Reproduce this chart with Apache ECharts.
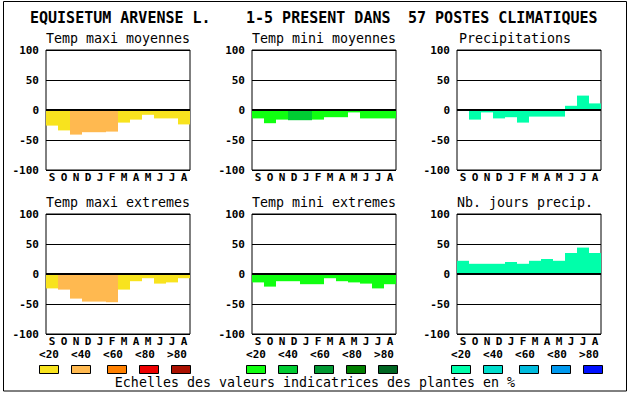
<!DOCTYPE html>
<html>
<head>
<meta charset="utf-8">
<script src="https://cdn.jsdelivr.net/npm/echarts@6/dist/echarts.min.js"></script>
<style>
html,body{margin:0;padding:0;background:#fff;}
#chart{width:630px;height:394px;}
</style>
</head>
<body>
<div id="chart"></div>
<script>
// ---- data ----
const months = ['S','O','N','D','J','F','M','A','M','J','J','A'];
const scaleLabels = ['<20','<40','<60','<80','>80'];

const maxiMoyValues = [-26,-34,-41,-37,-37,-36,-21,-16,-8,-14,-14,-24];
const maxiMoyClass  = [0,0,1,1,1,1,0,0,0,0,0,0];
const miniMoyValues = [-14,-22,-16,-17,-17,-16,-12,-12,-4,-14,-14,-14];
const miniMoyClass  = [0,0,0,1,1,0,0,0,0,0,0,0];
const precipValues  = [0,-16,-4,-14,-12,-21,-11,-11,-11,7,24,11];
const precipClass   = [0,0,0,0,0,0,0,0,0,0,0,0];
const maxiExtValues = [-24,-26,-41,-46,-46,-47,-26,-12,-7,-16,-14,-7];
const maxiExtClass  = [0,1,1,1,1,1,0,0,0,0,0,0];
const miniExtValues = [-14,-21,-12,-12,-17,-17,-7,-12,-14,-16,-24,-17];
const miniExtClass  = [0,0,0,0,0,0,0,0,0,0,0,0];
const nbJoursValues = [22,17,17,17,20,17,22,25,22,35,44,35];
const nbJoursClass  = [0,0,0,0,0,0,0,0,0,0,0,0];

const warmColors  = ['#f8e31e','#ffb950','#ff8000','#ee0000','#aa1000'];
const greenColors = ['#10ff10','#00cc33','#009933','#007f00','#006622'];
const blueColors  = ['#00ffaa','#00ddcc','#00bbdd','#0099ee','#0010ff'];

const FONT = '"DejaVu Sans Mono", "Liberation Mono", monospace';

const panels = [
  {title:'Temp maxi moyennes', values:maxiMoyValues, cls:maxiMoyClass, pal:warmColors,  left:46,  top:50,  tx:46},
  {title:'Temp mini moyennes', values:miniMoyValues, cls:miniMoyClass, pal:greenColors, left:252, top:50,  tx:252},
  {title:'Precipitations',     values:precipValues,  cls:precipClass,  pal:blueColors,  left:457, top:50,  tx:459},
  {title:'Temp maxi extremes', values:maxiExtValues, cls:maxiExtClass, pal:warmColors,  left:46,  top:214, tx:46},
  {title:'Temp mini extremes', values:miniExtValues, cls:miniExtClass, pal:greenColors, left:252, top:214, tx:252},
  {title:'Nb. jours precip.',  values:nbJoursValues, cls:nbJoursClass, pal:blueColors,  left:457, top:214, tx:457}
];

const grids = [], xAxes = [], yAxes = [], series = [];
const graphics = [];

panels.forEach((p, i) => {
  grids.push({left:p.left, top:p.top, width:144, height:120, show:true,
    borderColor:'#000', borderWidth:1, backgroundColor:'#fff', containLabel:false});
  xAxes.push({type:'category', gridIndex:i, data:months, boundaryGap:true,
    axisLine:{show:false}, axisTick:{show:false}, splitLine:{show:false},
    axisLabel:{show:true, interval:0, margin:2, color:'#000',
      fontFamily:FONT, fontWeight:'bold', fontSize:11}});
  yAxes.push({type:'value', gridIndex:i, min:-100, max:100, interval:50,
    axisLine:{show:false}, axisTick:{show:false},
    splitLine:{show:true, lineStyle:{color:'#000', width:1}},
    axisLabel:{show:true, margin:7, color:'#000',
      fontFamily:FONT, fontWeight:'bold', fontSize:11}});
  series.push({type:'bar', xAxisIndex:i, yAxisIndex:i,
    barWidth:'100%', barGap:'0%', barCategoryGap:'0%',
    silent:true, animation:false,
    data:p.values.map((v,k)=>({value:v, itemStyle:{color:p.pal[p.cls[k]]}})),
    markLine:{silent:true, symbol:'none', animation:false,
      label:{show:false}, lineStyle:{color:'#000', width:2, type:'solid'},
      data:[{yAxis:0}]}
  });
  graphics.push({type:'text', x:p.tx, y:p.top-12, style:{text:p.title,
    font:'13.3px ' + FONT, fill:'#000', align:'left', verticalAlign:'middle'}});
});

// main title
graphics.push({type:'text', x:30, y:18, style:{text:'EQUISETUM ARVENSE L.', font:'bold 15px ' + FONT, fill:'#000', align:'left', verticalAlign:'middle'}});
graphics.push({type:'text', x:246, y:18, style:{text:'1-5 PRESENT DANS', font:'bold 15px ' + FONT, fill:'#000', align:'left', verticalAlign:'middle'}});
graphics.push({type:'text', x:408, y:18, style:{text:'57 POSTES CLIMATIQUES', font:'bold 15px ' + FONT, fill:'#000', align:'left', verticalAlign:'middle'}});

// colour scale legend
const groupStarts = [39, 246, 451];
const swatchOffsets = [0, 32, 68, 100, 132];
const palettes = [warmColors, greenColors, blueColors];
groupStarts.forEach((gx, g) => {
  scaleLabels.forEach((lab, k) => {
    graphics.push({type:'text', x:gx + 10 + k*32, y:354, style:{text:lab,
      font:'bold 11px ' + FONT, fill:'#000', align:'center', verticalAlign:'middle'}});
    graphics.push({type:'rect', shape:{x:gx + swatchOffsets[k] + 0.5, y:365.5, width:19, height:8},
      style:{fill:palettes[g][k], stroke:'#000', lineWidth:1}});
  });
});
graphics.push({type:'text', x:315, y:382, style:{text:'Echelles des valeurs indicatrices des plantes en %',
  font:'13.3px ' + FONT, fill:'#000', align:'center', verticalAlign:'middle'}});

// outer frame
graphics.push({type:'rect', shape:{x:3.5, y:1.5, width:623, height:389.5},
  style:{fill:'none', stroke:'#000', lineWidth:1}, z:-1});

const chart = echarts.init(document.getElementById('chart'), null, {renderer:'svg'});
chart.setOption({
  animation:false,
  backgroundColor:'#fff',
  grid:grids, xAxis:xAxes, yAxis:yAxes, series:series,
  graphic:graphics
});
</script>
</body>
</html>
